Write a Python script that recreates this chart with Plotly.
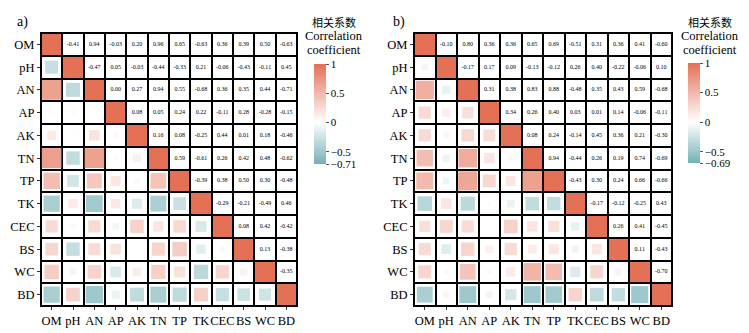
import numpy as np
import plotly.graph_objects as go

labels = ["OM", "pH", "AN", "AP", "AK", "TN", "TP", "TK", "CEC", "BS", "WC", "BD"]

# upper triangle rows (values right of the diagonal)
upper_a = [
    [-0.41, 0.94, -0.03, 0.20, 0.96, 0.65, -0.63, 0.36, 0.39, 0.50, -0.63],
    [-0.47, 0.05, -0.03, -0.44, -0.33, 0.21, -0.06, -0.43, -0.11, 0.45],
    [0.00, 0.27, 0.94, 0.55, -0.68, 0.36, 0.35, 0.44, -0.71],
    [0.08, 0.05, 0.24, 0.22, -0.11, 0.28, -0.28, -0.15],
    [0.16, 0.08, -0.25, 0.44, 0.01, 0.18, -0.46],
    [0.59, -0.61, 0.26, 0.42, 0.48, -0.62],
    [-0.39, 0.38, 0.50, 0.30, -0.48],
    [-0.29, -0.21, -0.49, 0.46],
    [0.08, 0.42, -0.42],
    [0.13, -0.38],
    [-0.35],
]
upper_b = [
    [-0.10, 0.80, 0.36, 0.36, 0.65, 0.69, -0.51, 0.31, 0.36, 0.41, -0.60],
    [-0.17, 0.17, 0.09, -0.13, -0.12, 0.26, 0.40, -0.22, -0.06, 0.10],
    [0.31, 0.38, 0.83, 0.88, -0.48, 0.35, 0.43, 0.59, -0.68],
    [0.34, 0.26, 0.40, 0.03, 0.01, 0.14, -0.06, -0.11],
    [0.08, 0.24, -0.14, 0.45, 0.36, 0.21, -0.30],
    [0.94, -0.44, 0.26, 0.19, 0.74, -0.69],
    [-0.43, 0.30, 0.24, 0.66, -0.66],
    [-0.17, -0.12, -0.25, 0.43],
    [0.26, 0.41, -0.45],
    [0.11, -0.43],
    [-0.70],
]
cbar_ticks_a = [1, 0.5, 0, -0.5, -0.71]
cbar_ticks_b = [1, 0.5, 0, -0.5, -0.69]

CORAL = "rgb(228,112,86)"
TEAL = "rgb(116,176,182)"
SERIF = "Liberation Serif, Times New Roman, serif"
n = len(labels)


def full_matrix(upper):
    m = np.eye(n)
    for i, row in enumerate(upper):
        for k, v in enumerate(row):
            j = i + 1 + k
            m[i, j] = v
            m[j, i] = v
    return m


def colorscale(cmin):
    w = -cmin / (1 - cmin)
    return [[0, TEAL], [w, "white"], [1, CORAL]]


fig = go.Figure()
CELL = 21.5
panels = [
    (full_matrix(upper_a), "x", "y", "coloraxis"),
    (full_matrix(upper_b), "x2", "y2", "coloraxis2"),
]
for m, xa, ya, cax in panels:
    idx = list(range(n))
    fig.add_trace(go.Heatmap(
        z=np.eye(n), x=idx, y=idx, zmin=0, zmax=1,
        colorscale=[[0, "white"], [1, CORAL]], showscale=False,
        xgap=2, ygap=2, hoverinfo="skip", xaxis=xa, yaxis=ya))
    lx, ly, lv = [], [], []
    tx, ty, tt = [], [], []
    for i in range(n):
        for j in range(n):
            if i > j:
                lx.append(j); ly.append(i); lv.append(m[i, j])
            elif i < j:
                tx.append(j); ty.append(i); tt.append(f"{m[i, j]:.2f}")
    lv = np.array(lv)
    fig.add_trace(go.Scatter(
        x=lx, y=ly, mode="markers", xaxis=xa, yaxis=ya,
        marker=dict(symbol="square", size=0.95 * np.sqrt(np.abs(lv)) * CELL,
                    color=lv, coloraxis=cax, line=dict(width=0)),
        hoverinfo="skip", showlegend=False))
    fig.add_trace(go.Scatter(
        x=tx, y=ty, mode="text", text=tt, xaxis=xa, yaxis=ya,
        textfont=dict(family=SERIF, size=6, color="black"),
        hoverinfo="skip", showlegend=False))

W, H = 749, 333
yd = [1 - 306 / H, 1 - 33 / H]
axis_common = dict(
    tickmode="array", tickvals=list(range(n)), ticktext=labels, tickangle=0,
    ticks="outside", ticklen=3, tickcolor="#333", tickwidth=1,
    tickfont=dict(family=SERIF, size=12.5, color="black"),
    showgrid=False, zeroline=False, showline=True, mirror=True,
    linecolor="black", linewidth=1, fixedrange=True,
)
fig.update_layout(
    width=W, height=H, margin=dict(l=0, r=0, t=0, b=0),
    paper_bgcolor="white", plot_bgcolor="black", showlegend=False,
    xaxis=dict(domain=[41 / W, 297 / W], range=[-0.5, n - 0.5], anchor="y", **axis_common),
    yaxis=dict(domain=yd, range=[n - 0.5, -0.5], anchor="x", **axis_common),
    xaxis2=dict(domain=[414 / W, 672 / W], range=[-0.5, n - 0.5], anchor="y2", **axis_common),
    yaxis2=dict(domain=yd, range=[n - 0.5, -0.5], anchor="x2", **axis_common),
)

cb_common = dict(
    thickness=12, lenmode="pixels", len=100, xanchor="left", yanchor="middle",
    xpad=0, ypad=0, outlinewidth=0, ticks="outside", ticklen=3, tickcolor="#555",
    tickfont=dict(family=SERIF, size=11, color="black"), tickmode="array",
)
fig.update_layout(
    coloraxis=dict(cmin=cbar_ticks_a[-1], cmax=1, colorscale=colorscale(cbar_ticks_a[-1]),
                   colorbar=dict(x=314 / W, y=1 - 114 / H, tickvals=cbar_ticks_a, **cb_common)),
    coloraxis2=dict(cmin=cbar_ticks_b[-1], cmax=1, colorscale=colorscale(cbar_ticks_b[-1]),
                    colorbar=dict(x=688 / W, y=1 - 113 / H, tickvals=cbar_ticks_b, **cb_common)),
)

annots = []
for cx in (334, 710):
    for text, yy, fam, sz in (("相关系数", 22, "Noto Sans CJK SC", 11), ("Correlation", 36, SERIF, 12.5),
                              ("coefficient", 50, SERIF, 12.5)):
        annots.append(dict(x=cx / W, y=1 - yy / H, xref="paper", yref="paper", text=text,
                           showarrow=False, xanchor="center", yanchor="middle",
                           font=dict(family=fam, size=sz, color="black")))
for t, cx in (("a)", 22), ("b)", 399)):
    annots.append(dict(x=cx / W, y=1 - 22 / H, xref="paper", yref="paper", text=t,
                       showarrow=False, xanchor="center", yanchor="middle",
                       font=dict(family=SERIF, size=14, color="black")))
fig.update_layout(annotations=annots)

fig.write_html("out.html")
